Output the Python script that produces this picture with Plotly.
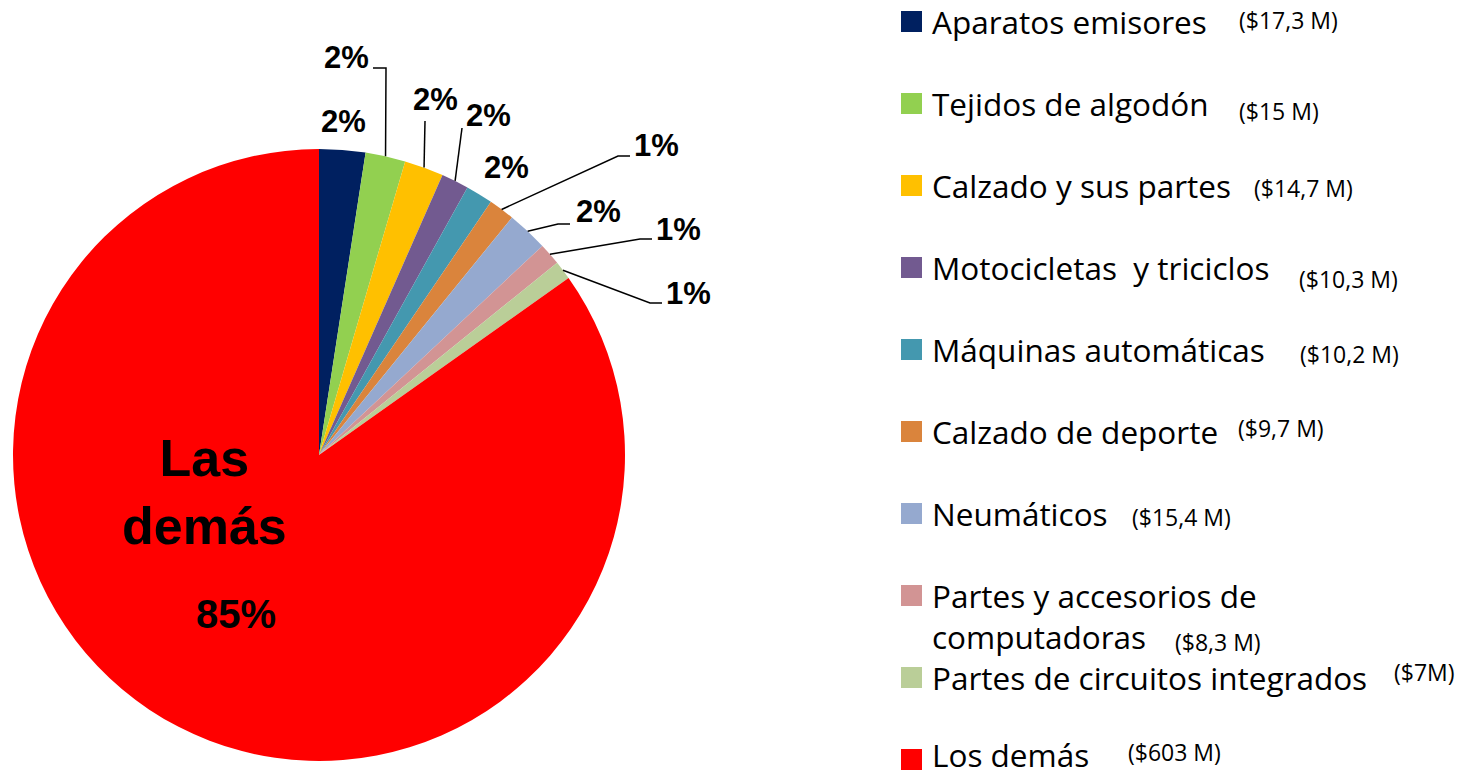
import math
import plotly.graph_objects as go

# ---------------- data ----------------
categories = [
    "Aparatos emisores", "Tejidos de algodón", "Calzado y sus partes",
    "Motocicletas  y triciclos", "Máquinas automáticas", "Calzado de deporte",
    "Neumáticos", "Partes y accesorios de<br>computadoras",
    "Partes de circuitos integrados", "Los demás",
]
values = [17.3, 15, 14.7, 10.3, 10.2, 9.7, 15.4, 8.3, 7, 603]
value_labels = ["($17,3 M)", "($15 M)", "($14,7 M)", "($10,3 M)", "($10,2 M)",
                "($9,7 M)", "($15,4 M)", "($8,3 M)", "($7M)", "($603 M)"]
pct_labels = ["2%", "2%", "2%", "2%", "2%", "1%", "2%", "1%", "1%", "85%"]
colors = ["#002060", "#92D050", "#FFC000", "#725A90", "#4498AF", "#DA843C",
          "#95A9CF", "#D29494", "#BACE98", "#FF0000"]

# ---------------- layout (pixel geometry) ----------------
W, H = 1470, 776
CX, CY, R = 319, 455, 306


def px(x):
    return x / W


def py(y):
    return 1 - y / H


fig = go.Figure(go.Pie(
    labels=categories, values=values, sort=False, direction="clockwise",
    rotation=0, marker=dict(colors=colors, line=dict(width=0)),
    textinfo="none", showlegend=False, hoverinfo="label+value+percent",
    domain=dict(x=[px(CX - R), px(CX + R)], y=[py(CY + R), py(CY - R)]),
))

# percentage label positions (text centre) and leader elbow points (None = no leader)
label_pos = [(343, 121), (346, 58), (435, 99), (488, 115), (506, 167),
             (656, 145), (598, 212), (678, 229), (688, 293)]
leader_elbow = [None, [(386, 68), (373, 68)], [(425, 121)], [(462, 128)], None,
                [(618, 156), (630, 156)], [(558, 224), (570, 224)],
                [(640, 239), (652, 239)], [(650, 303), (662, 303)]]

total = sum(values)
annotations = []
shapes = []
cum = 0.0
for i, v in enumerate(values):
    start = cum
    cum += v
    if i == len(values) - 1:
        break
    mid = math.radians((start + v / 2) / total * 360)
    sx = CX + R * math.sin(mid)
    sy = CY - R * math.cos(mid)
    lx, lyy = label_pos[i]
    annotations.append(dict(x=px(lx), y=py(lyy), xref="paper", yref="paper",
                            text=pct_labels[i], showarrow=False,
                            xanchor="center", yanchor="middle",
                            font=dict(family="Liberation Sans, Arial", size=31,
                                      color="black", weight="bold")))
    if leader_elbow[i]:
        pts = [(sx, sy)] + leader_elbow[i]
        path = "M " + " L ".join(f"{px(a)},{py(b)}" for a, b in pts)
        shapes.append(dict(type="path", path=path, xref="paper", yref="paper",
                           line=dict(color="black", width=1.5)))

# big slice label
annotations.append(dict(x=px(205), y=py(492), xref="paper", yref="paper",
                        text="Las<br>demás", showarrow=False,
                        xanchor="center", yanchor="middle",
                        font=dict(family="Liberation Sans, Arial", size=52,
                                  color="black", weight="bold")))
annotations.append(dict(x=px(236), y=py(614), xref="paper", yref="paper",
                        text=pct_labels[-1], showarrow=False,
                        xanchor="center", yanchor="middle",
                        font=dict(family="Liberation Sans, Arial", size=40,
                                  color="black", weight="bold")))

# ---------------- custom legend ----------------
LEG_Y0, LEG_STEP = 21.5, 82
SQ_X0, SQ_X1, SQ = 901, 922, 21
TEXT_X = 930
LEG_SIZE = 31.5
value_pos = [(1237, 20), (1237, 111), (1252, 188), (1297, 279), (1298, 354),
             (1236, 428), (1130, 517), (1173, 642), (1392, 672), (1126, 752)]
for i, name in enumerate(categories):
    yc = LEG_Y0 + i * LEG_STEP
    shapes.append(dict(type="rect", xref="paper", yref="paper",
                       x0=px(SQ_X0), x1=px(SQ_X1), y0=py(yc + SQ / 2), y1=py(yc - SQ / 2),
                       fillcolor=colors[i], line=dict(width=0)))
    nlines = name.count("<br>") + 1
    ty = yc + (nlines - 1) * LEG_SIZE * 1.3 / 2
    ty = min(ty, H - LEG_SIZE * 0.65 - 1.5)  # keep the text box inside the page
    annotations.append(dict(x=px(TEXT_X), y=py(ty), xref="paper", yref="paper",
                            text=name, showarrow=False, align="left",
                            xanchor="left", yanchor="middle",
                            font=dict(family="Open Sans", size=LEG_SIZE, color="black")))
    vx, vy = value_pos[i]
    annotations.append(dict(x=px(vx), y=py(vy), xref="paper", yref="paper",
                            text=value_labels[i], showarrow=False,
                            xanchor="left", yanchor="middle",
                            font=dict(family="Open Sans", size=23, color="black")))

fig.update_layout(width=W, height=H, margin=dict(l=0, r=0, t=0, b=0),
                  paper_bgcolor="white", plot_bgcolor="white",
                  annotations=annotations, shapes=shapes, showlegend=False)
fig.write_html("out.html", config={"displayModeBar": False},
               post_script="document.body.style.margin='0';")
